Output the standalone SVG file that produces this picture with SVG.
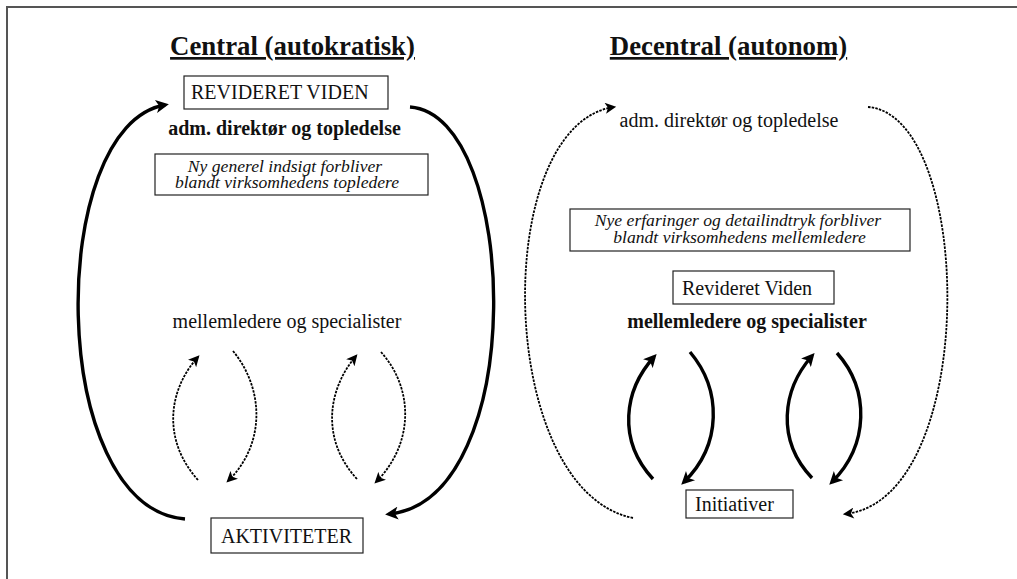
<svg xmlns="http://www.w3.org/2000/svg" width="1017" height="579" viewBox="0 0 1017 579">
<style>
text{font-family:"Liberation Serif","Times New Roman",serif;fill:#111}
.title{font-size:26.8px;font-weight:bold;text-decoration:underline;text-anchor:middle}
.lbl{font-size:20px}
.b{font-weight:bold}
.mid{text-anchor:middle}
.it{font-size:17.6px;font-style:italic;text-anchor:middle}
.box{fill:#fff;stroke:#222;stroke-width:1.2}
.solid{fill:none;stroke:#000;stroke-width:3.4}
.dot{fill:none;stroke:#000;stroke-width:1.8;stroke-dasharray:2.5 1.2}
</style>
<defs>
<marker id="ah" viewBox="0 0 10 10" refX="7" refY="5" markerUnits="userSpaceOnUse" markerWidth="15" markerHeight="13" orient="auto">
<path d="M0,0 L10,5 L0,10 L2.5,5 z" fill="#000"/>
</marker>
<marker id="ahs" viewBox="0 0 10 10" refX="8" refY="5" markerUnits="userSpaceOnUse" markerWidth="12" markerHeight="11" orient="auto">
<path d="M0,0 L10,5 L0,10 L2.5,5 z" fill="#000"/>
</marker>
</defs>
<rect width="1017" height="579" fill="#fff"/>
<path d="M7,579 V7 H1017" fill="none" stroke="#555" stroke-width="2"/>

<g id="title-central"><text class="title" x="292.5" y="55">Central (autokratisk)</text></g>
<g id="title-decentral"><text class="title" x="728.5" y="55">Decentral (autonom)</text></g>

<g id="c-revideret"><rect class="box" x="184" y="76" width="204" height="33"/><text class="lbl" x="191" y="99">REVIDERET VIDEN</text></g>
<g id="c-top"><text class="lbl b mid" x="284.5" y="135">adm. direktør og topledelse</text></g>
<g id="c-insight"><rect class="box" x="155" y="154" width="273" height="41"/><text class="it" x="285" y="171.5">Ny generel indsigt forbliver</text><text class="it" x="287" y="188">blandt virksomhedens topledere</text></g>
<g id="c-mid"><text class="lbl mid" x="287" y="328">mellemledere og specialister</text></g>
<g id="c-aktiviteter"><rect class="box" x="211" y="518" width="152" height="35"/><text class="lbl mid" x="286.5" y="543">AKTIVITETER</text></g>

<g id="d-top"><text class="lbl mid" x="729" y="127">adm. direktør og topledelse</text></g>
<g id="d-insight"><rect class="box" x="570" y="209" width="340" height="42"/><text class="it" x="738" y="226">Nye erfaringer og detailindtryk forbliver</text><text class="it" x="739.5" y="243">blandt virksomhedens mellemledere</text></g>
<g id="d-revideret"><rect class="box" x="673" y="271" width="161" height="33"/><text class="lbl" x="682" y="295">Revideret Viden</text></g>
<g id="d-mid"><text class="lbl b mid" x="747" y="328">mellemledere og specialister</text></g>
<g id="d-initiativer"><rect class="box" x="686" y="490" width="107" height="28"/><text class="lbl" x="695" y="511">Initiativer</text></g>

<g id="connectors">
<path class="solid" d="M185,519 C46,508 46,125 165,105" marker-end="url(#ah)"/>
<path class="solid" d="M410,107 C520,115 530,500 389,514" marker-end="url(#ah)"/>
<path class="dot" d="M198,480 C162,440 168,390 198,357" marker-end="url(#ahs)"/>
<path class="dot" d="M233,351 C265,390 265,445 228,481" marker-end="url(#ahs)"/>
<path class="dot" d="M357,479 C321,440 327,390 356,356" marker-end="url(#ahs)"/>
<path class="dot" d="M381,352 C415,390 413,445 376,482" marker-end="url(#ahs)"/>

<path class="dot" d="M633,518 C495,490 490,125 614,107" marker-end="url(#ahs)"/>
<path class="dot" d="M868,107 C975,115 980,500 845,514" marker-end="url(#ahs)"/>
<path class="solid" d="M653,479 C617,440 624,390 654,357" marker-end="url(#ah)"/>
<path class="solid" d="M690,352 C722,390 722,445 684,482" marker-end="url(#ah)"/>
<path class="solid" d="M812,478 C776,440 782,390 812,356" marker-end="url(#ah)"/>
<path class="solid" d="M837,353 C870,390 869,445 832,482" marker-end="url(#ah)"/>
</g>
</svg>
